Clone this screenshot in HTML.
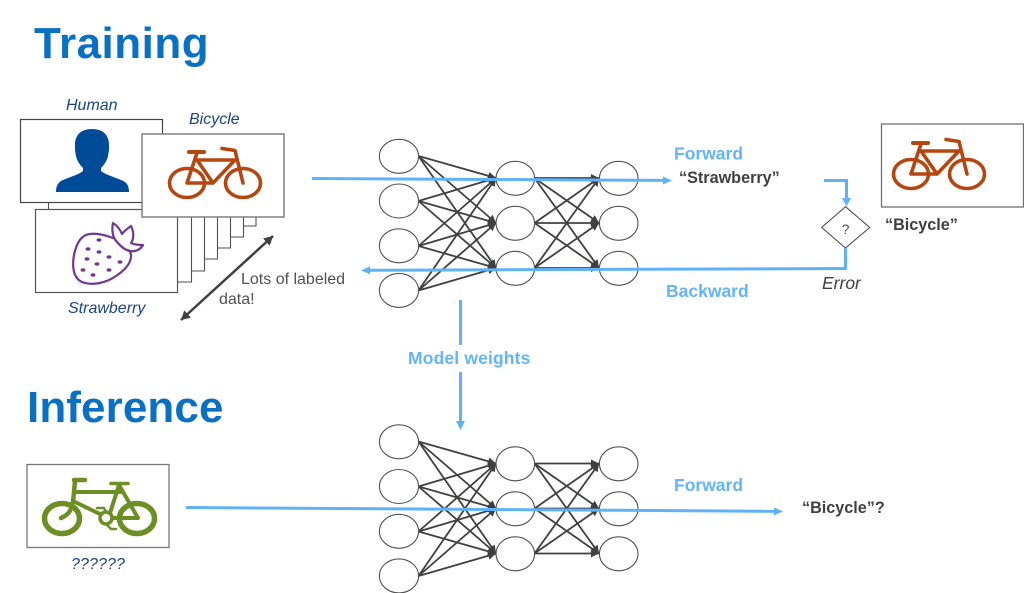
<!DOCTYPE html>
<html><head><meta charset="utf-8"><style>
html,body{margin:0;padding:0;background:#fff}
svg{display:block}
text{font-family:"Liberation Sans",sans-serif}
</style></head><body>
<svg xmlns="http://www.w3.org/2000/svg" width="1024" height="593" viewBox="0 0 1024 593">
<defs>
<marker id="ah" markerUnits="userSpaceOnUse" markerWidth="10" markerHeight="10" refX="8" refY="4" orient="auto"><path d="M0 0L8 4L0 8Z" fill="#404040"/></marker>
<marker id="ahs" markerUnits="userSpaceOnUse" markerWidth="12" markerHeight="12" orient="auto-start-reverse" refX="9" refY="5"><path d="M0 0L9 5L0 10Z" fill="#404040"/></marker>
<g id="net">
<g stroke="#404040" stroke-width="1.8" marker-end="url(#ah)">
<line x1="418.5" y1="156" x2="496" y2="178"/><line x1="418.5" y1="156" x2="496" y2="223"/><line x1="418.5" y1="156" x2="496" y2="268"/>
<line x1="418.5" y1="201" x2="496" y2="178"/><line x1="418.5" y1="201" x2="496" y2="223"/><line x1="418.5" y1="201" x2="496" y2="268"/>
<line x1="418.5" y1="246" x2="496" y2="178"/><line x1="418.5" y1="246" x2="496" y2="223"/><line x1="418.5" y1="246" x2="496" y2="268"/>
<line x1="418.5" y1="290.5" x2="496" y2="178"/><line x1="418.5" y1="290.5" x2="496" y2="223"/><line x1="418.5" y1="290.5" x2="496" y2="268"/>
<line x1="534.5" y1="178" x2="599" y2="178"/><line x1="534.5" y1="178" x2="599" y2="223"/><line x1="534.5" y1="178" x2="599" y2="268"/>
<line x1="534.5" y1="223" x2="599" y2="178"/><line x1="534.5" y1="223" x2="599" y2="223"/><line x1="534.5" y1="223" x2="599" y2="268"/>
<line x1="534.5" y1="268" x2="599" y2="178"/><line x1="534.5" y1="268" x2="599" y2="223"/><line x1="534.5" y1="268" x2="599" y2="268"/>
</g>
<g fill="#fff" stroke="#505050" stroke-width="1.1">
<ellipse cx="399" cy="156.3" rx="19.6" ry="17"/><ellipse cx="399" cy="201" rx="19.6" ry="17"/><ellipse cx="399" cy="245.8" rx="19.6" ry="17"/><ellipse cx="399" cy="290.4" rx="19.6" ry="17"/>
<ellipse cx="515.3" cy="178.3" rx="19.3" ry="17"/><ellipse cx="515.3" cy="223.3" rx="19.3" ry="17"/><ellipse cx="515.3" cy="268.3" rx="19.3" ry="17"/>
<ellipse cx="618.7" cy="178.3" rx="19.3" ry="17"/><ellipse cx="618.7" cy="223.3" rx="19.3" ry="17"/><ellipse cx="618.7" cy="268.3" rx="19.3" ry="17"/>
</g>
</g>
<g id="bike" fill="none" stroke="#b5460f" stroke-width="3.6" stroke-linecap="round" stroke-linejoin="round">
<ellipse cx="187" cy="183" rx="17.500" ry="14.500"/><ellipse cx="243" cy="183" rx="17.500" ry="14.500"/>
<path d="M189 152H204" stroke-width="4"/>
<path d="M197 153L187 183H213L235 160H197L213 183"/>
<path d="M222 148.500L235 150.500L243 183"/>
</g>
</defs>
<rect width="1024" height="593" fill="#fff"/>
<text x="34" y="58" font-size="44" font-weight="700" fill="#0a70c4" letter-spacing=".5">Training</text>
<text x="27" y="422" font-size="44" font-weight="700" fill="#0a70c4" letter-spacing=".1">Inference</text>

<g fill="none" stroke="#505050" stroke-width="1.1">
<path d="M48.500 202V210"/>
<path d="M178 282H191.500V217M191.500 271H204.500V217M204.500 259H217.500V217M217.500 248H230.500V217M230.500 237H243.500V217M243.500 226H256V217"/>
</g>
<rect x="20.500" y="119.500" width="142" height="83" fill="#fff" stroke="#444" stroke-width="1.200"/>
<path d="M92 129C81 129 75 135 75 145C75 149 75 151 75.500 153C76 160 80 165 83 168L83 171C80 174 70 177 63 180C58 182 56 186 56 192H129C129 186 127 182 121 180C114 177 104 174 101 171L101 168C104 165 108 160 108.500 153C109 151 109 149 109 145C109 135 103 129 92 129Z" fill="#004b97"/>
<rect x="35.500" y="209.500" width="142" height="83" fill="#fff" stroke="#555" stroke-width="1.200"/>
<rect x="142" y="134" width="142" height="83" fill="#fff" stroke="#808080" stroke-width="1.500"/>
<use href="#bike"/>
<g fill="none" stroke="#70398f" stroke-width="2.200" stroke-linejoin="round" stroke-linecap="round">
<path d="M113 238C105 235 97 233 90 234C80 235 76 245 74 255C72 266 73 278 82 282C92 286 106 283 116 276C125 270 131 263 131 256C131 253 130 251 128 250"/>
<path d="M114 238C112 232 112 227 113 223C116 225 120 229 122 234C124 231 127 229 131 226C134 232 134 239 131 243C135 245 139 245 143 245C140 250 135 252 130 251C124 250 118 244 114 238Z"/>
</g>
<g fill="#70398f">
<ellipse cx="99" cy="240" rx="2.500" ry="1.700"/><ellipse cx="88" cy="249" rx="2.500" ry="1.700"/><ellipse cx="99" cy="252" rx="2.500" ry="1.700"/><ellipse cx="109" cy="257" rx="2.500" ry="1.700"/>
<ellipse cx="87" cy="259" rx="2.500" ry="1.700"/><ellipse cx="120" cy="262" rx="2.500" ry="1.700"/><ellipse cx="97" cy="264" rx="2.500" ry="1.700"/><ellipse cx="109" cy="270" rx="2.500" ry="1.700"/>
<ellipse cx="83" cy="270" rx="2.500" ry="1.700"/><ellipse cx="93" cy="275" rx="2.500" ry="1.700"/>
</g>
<g font-size="16" font-style="italic" fill="#1b4480">
<text x="66" y="110">Human</text><text x="189" y="124">Bicycle</text><text x="68" y="313">Strawberry</text><text x="71" y="569" letter-spacing=".1">??????</text>
</g>
<line x1="181" y1="320" x2="273" y2="236" stroke="#404040" stroke-width="2.500" marker-start="url(#ahs)" marker-end="url(#ahs)"/>
<g font-size="16" fill="#505050"><text x="241" y="284">Lots of labeled</text><text x="219" y="304">data!</text></g>

<use href="#net"/>
<use href="#net" y="285.500"/>

<rect x="881.500" y="124" width="142" height="83" fill="#fff" stroke="#707070" stroke-width="1.300"/>
<use href="#bike" x="724" y="-9"/>
<path d="M845.500 206.700L869.700 227.500L845.500 248L821.700 227.500Z" fill="#fff" stroke="#505050" stroke-width="1.100"/>
<text x="845.500" y="234" font-size="14" fill="#505050" text-anchor="middle">?</text>

<rect x="27" y="464.500" width="142" height="83" fill="#fff" stroke="#777" stroke-width="1.300"/>
<g fill="none" stroke="#6c8e23" stroke-linecap="round" stroke-linejoin="round">
<ellipse cx="62" cy="518.500" rx="17.500" ry="15" stroke-width="5.500"/><ellipse cx="137" cy="518.500" rx="17.500" ry="15" stroke-width="5.500"/>
<path d="M74 480H85M75 481C74 490 74 498 72 506C70 513 66 516 61 518" stroke-width="4.500"/>
<path d="M111 483.500H128" stroke-width="3.500"/>
<path d="M75 492H120M75 502L102 515M119 485L110 513M119 485L138 518H112" stroke-width="4"/>
<circle cx="106" cy="518" r="6" stroke-width="3.500" fill="#fff"/>
<path d="M97 508H104L106 512M106 524L111 529H116" stroke-width="2.500"/>
</g>

<g fill="none" stroke="#5fb2f8" stroke-width="3">
<path d="M312 178.500L664 180.400"/>
<path d="M824 180.500H846.500V199"/>
<path d="M845.500 248V269"/>
<path d="M846.500 268.500L369 270.300"/>
<path d="M460.500 300V345M460.500 372V422"/>
<path d="M186 507.500L775 511.300"/>
</g>
<g fill="#5fb2f8">
<path d="M672 180.500L663 176.500V184.500Z"/>
<path d="M846.500 206.500L842 198H851Z"/>
<path d="M361 270.400L370 266.400V274.400Z"/>
<path d="M460.500 430L456 421H465Z"/>
<path d="M783 511.400L774 507.400V515.400Z"/>
</g>

<g font-size="17.500" font-weight="700" fill="#63b4f8">
<text x="674" y="159.500">Forward</text>
<text x="666" y="297">Backward</text>
<text x="408" y="364" letter-spacing=".15">Model weights</text>
<text x="674" y="491">Forward</text>
</g>
<g font-size="16.200" font-weight="700" fill="#404040">
<text x="679" y="183">“Strawberry”</text>
<text x="885" y="230">“Bicycle”</text>
<text x="802" y="513">“Bicycle”?</text>
</g>
<text x="822" y="289" font-size="17.500" font-style="italic" fill="#404040">Error</text>
</svg>
</body></html>
